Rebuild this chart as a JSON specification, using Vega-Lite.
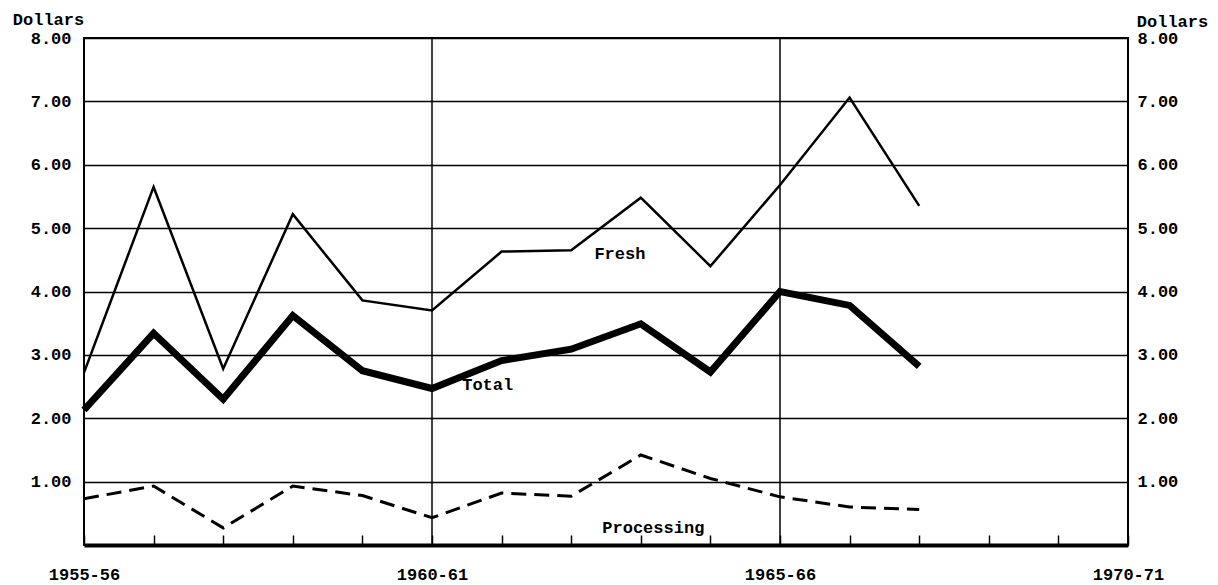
{
  "$schema": "https://vega.github.io/schema/vega-lite/v6.json",
  "width": 1044,
  "height": 507,
  "autosize": {"type": "none"},
  "padding": {"left": 84, "top": 38, "right": 90, "bottom": 40},
  "background": "white",
  "config": {
    "view": {"stroke": "black", "strokeWidth": 2},
    "font": "Liberation Mono",
    "text": {"font": "Liberation Mono"}
  },
  "datasets": {
    "series": [
      {"year": 1955, "series": "Fresh", "value": 2.72},
      {"year": 1956, "series": "Fresh", "value": 5.65},
      {"year": 1957, "series": "Fresh", "value": 2.78},
      {"year": 1958, "series": "Fresh", "value": 5.22},
      {"year": 1959, "series": "Fresh", "value": 3.86},
      {"year": 1960, "series": "Fresh", "value": 3.7},
      {"year": 1961, "series": "Fresh", "value": 4.63},
      {"year": 1962, "series": "Fresh", "value": 4.65},
      {"year": 1963, "series": "Fresh", "value": 5.48},
      {"year": 1964, "series": "Fresh", "value": 4.4},
      {"year": 1965, "series": "Fresh", "value": 5.68},
      {"year": 1966, "series": "Fresh", "value": 7.06},
      {"year": 1967, "series": "Fresh", "value": 5.35},
      {"year": 1955, "series": "Total", "value": 2.13},
      {"year": 1956, "series": "Total", "value": 3.34},
      {"year": 1957, "series": "Total", "value": 2.3},
      {"year": 1958, "series": "Total", "value": 3.62},
      {"year": 1959, "series": "Total", "value": 2.75},
      {"year": 1960, "series": "Total", "value": 2.47},
      {"year": 1961, "series": "Total", "value": 2.91},
      {"year": 1962, "series": "Total", "value": 3.09},
      {"year": 1963, "series": "Total", "value": 3.49},
      {"year": 1964, "series": "Total", "value": 2.73},
      {"year": 1965, "series": "Total", "value": 4.0},
      {"year": 1966, "series": "Total", "value": 3.78},
      {"year": 1967, "series": "Total", "value": 2.82},
      {"year": 1955, "series": "Processing", "value": 0.73},
      {"year": 1956, "series": "Processing", "value": 0.93},
      {"year": 1957, "series": "Processing", "value": 0.27},
      {"year": 1958, "series": "Processing", "value": 0.93},
      {"year": 1959, "series": "Processing", "value": 0.78},
      {"year": 1960, "series": "Processing", "value": 0.43},
      {"year": 1961, "series": "Processing", "value": 0.82},
      {"year": 1962, "series": "Processing", "value": 0.77},
      {"year": 1963, "series": "Processing", "value": 1.42},
      {"year": 1964, "series": "Processing", "value": 1.05},
      {"year": 1965, "series": "Processing", "value": 0.76},
      {"year": 1966, "series": "Processing", "value": 0.6},
      {"year": 1967, "series": "Processing", "value": 0.56}
    ],
    "labels": [
      {"year": 1962.7, "value": 4.59, "label": "Fresh"},
      {"year": 1960.8, "value": 2.52, "label": "Total"},
      {"year": 1963.18, "value": 0.27, "label": "Processing"}
    ],
    "vgrid": [{"year": 1960}, {"year": 1965}]
  },
  "layer": [
    {
      "data": {"name": "vgrid"},
      "mark": {"type": "rule", "color": "black", "strokeWidth": 1.5},
      "encoding": {
        "x": {
          "field": "year",
          "type": "quantitative",
          "scale": {"domain": [1955, 1970], "nice": false, "zero": false},
          "axis": {
            "orient": "bottom",
            "values": [1955, 1956, 1957, 1958, 1959, 1960, 1961, 1962, 1963, 1964, 1965, 1966, 1967, 1968, 1969, 1970],
            "labelExpr": "datum.value % 5 == 0 ? datum.value + '-' + slice('' + (datum.value + 1), 2) : ''",
            "grid": false,
            "domainColor": "black",
            "domainWidth": 4,
            "tickColor": "black",
            "tickWidth": 1.5,
            "tickSize": -10,
            "labelPadding": 39,
            "labelBaseline": "middle",
            "labelFontSize": 17,
            "labelFontWeight": "bold",
            "labelColor": "black",
            "labelOverlap": false,
            "labelFlush": false,
            "title": null,
            "encode": {
              "labels": {
                "update": {
                  "dx": {"signal": "datum.value == 1955 ? -28 : datum.value == 1960 ? -25 : datum.value == 1965 ? -16 : 50"}
                }
              }
            }
          }
        }
      }
    },
    {
      "data": {"name": "series"},
      "transform": [{"filter": "datum.series == 'Fresh'"}],
      "mark": {"type": "line", "color": "black", "strokeWidth": 2.5, "strokeJoin": "miter"},
      "encoding": {
        "x": {"field": "year", "type": "quantitative"},
        "y": {
          "field": "value",
          "type": "quantitative",
          "scale": {"domain": [0, 8], "nice": false},
          "axis": {
            "orient": "left",
            "values": [1, 2, 3, 4, 5, 6, 7, 8],
            "format": ".2f",
            "grid": true,
            "gridColor": "black",
            "gridWidth": 1.5,
            "gridOpacity": 1,
            "domain": false,
            "ticks": false,
            "labelPadding": 13,
            "labelFontSize": 17,
            "labelFontWeight": "bold",
            "labelColor": "black",
            "title": "Dollars",
            "titleAngle": 0,
            "titleAlign": "center",
            "titleBaseline": "alphabetic",
            "titleX": -36,
            "titleY": -14,
            "titleFontSize": 17,
            "titleFontWeight": "bold",
            "titleColor": "black"
          }
        }
      }
    },
    {
      "data": {"name": "series"},
      "transform": [{"filter": "datum.series == 'Total'"}],
      "mark": {"type": "line", "color": "black", "strokeWidth": 7, "strokeJoin": "miter"},
      "encoding": {
        "x": {"field": "year", "type": "quantitative"},
        "y": {"field": "value", "type": "quantitative", "axis": null}
      }
    },
    {
      "data": {"name": "series"},
      "transform": [{"filter": "datum.series == 'Processing'"}],
      "mark": {"type": "line", "color": "black", "strokeWidth": 3, "strokeDash": [15, 8], "strokeJoin": "miter"},
      "encoding": {
        "x": {"field": "year", "type": "quantitative"},
        "y": {"field": "value", "type": "quantitative", "axis": null}
      }
    },
    {
      "data": {"name": "labels"},
      "mark": {"type": "text", "color": "black", "fontSize": 17, "fontWeight": "bold", "align": "center", "baseline": "middle"},
      "encoding": {
        "x": {"field": "year", "type": "quantitative"},
        "y": {
          "field": "value",
          "type": "quantitative",
          "axis": {
            "orient": "right",
            "values": [1, 2, 3, 4, 5, 6, 7, 8],
            "format": ".2f",
            "grid": false,
            "domain": false,
            "ticks": false,
            "labelPadding": 9,
            "labelFontSize": 17,
            "labelFontWeight": "bold",
            "labelColor": "black",
            "title": "Dollars",
            "titleAngle": 0,
            "titleAlign": "center",
            "titleBaseline": "alphabetic",
            "titleX": 44,
            "titleY": -12,
            "titleFontSize": 17,
            "titleFontWeight": "bold",
            "titleColor": "black"
          }
        },
        "text": {"field": "label"}
      }
    }
  ]
}
